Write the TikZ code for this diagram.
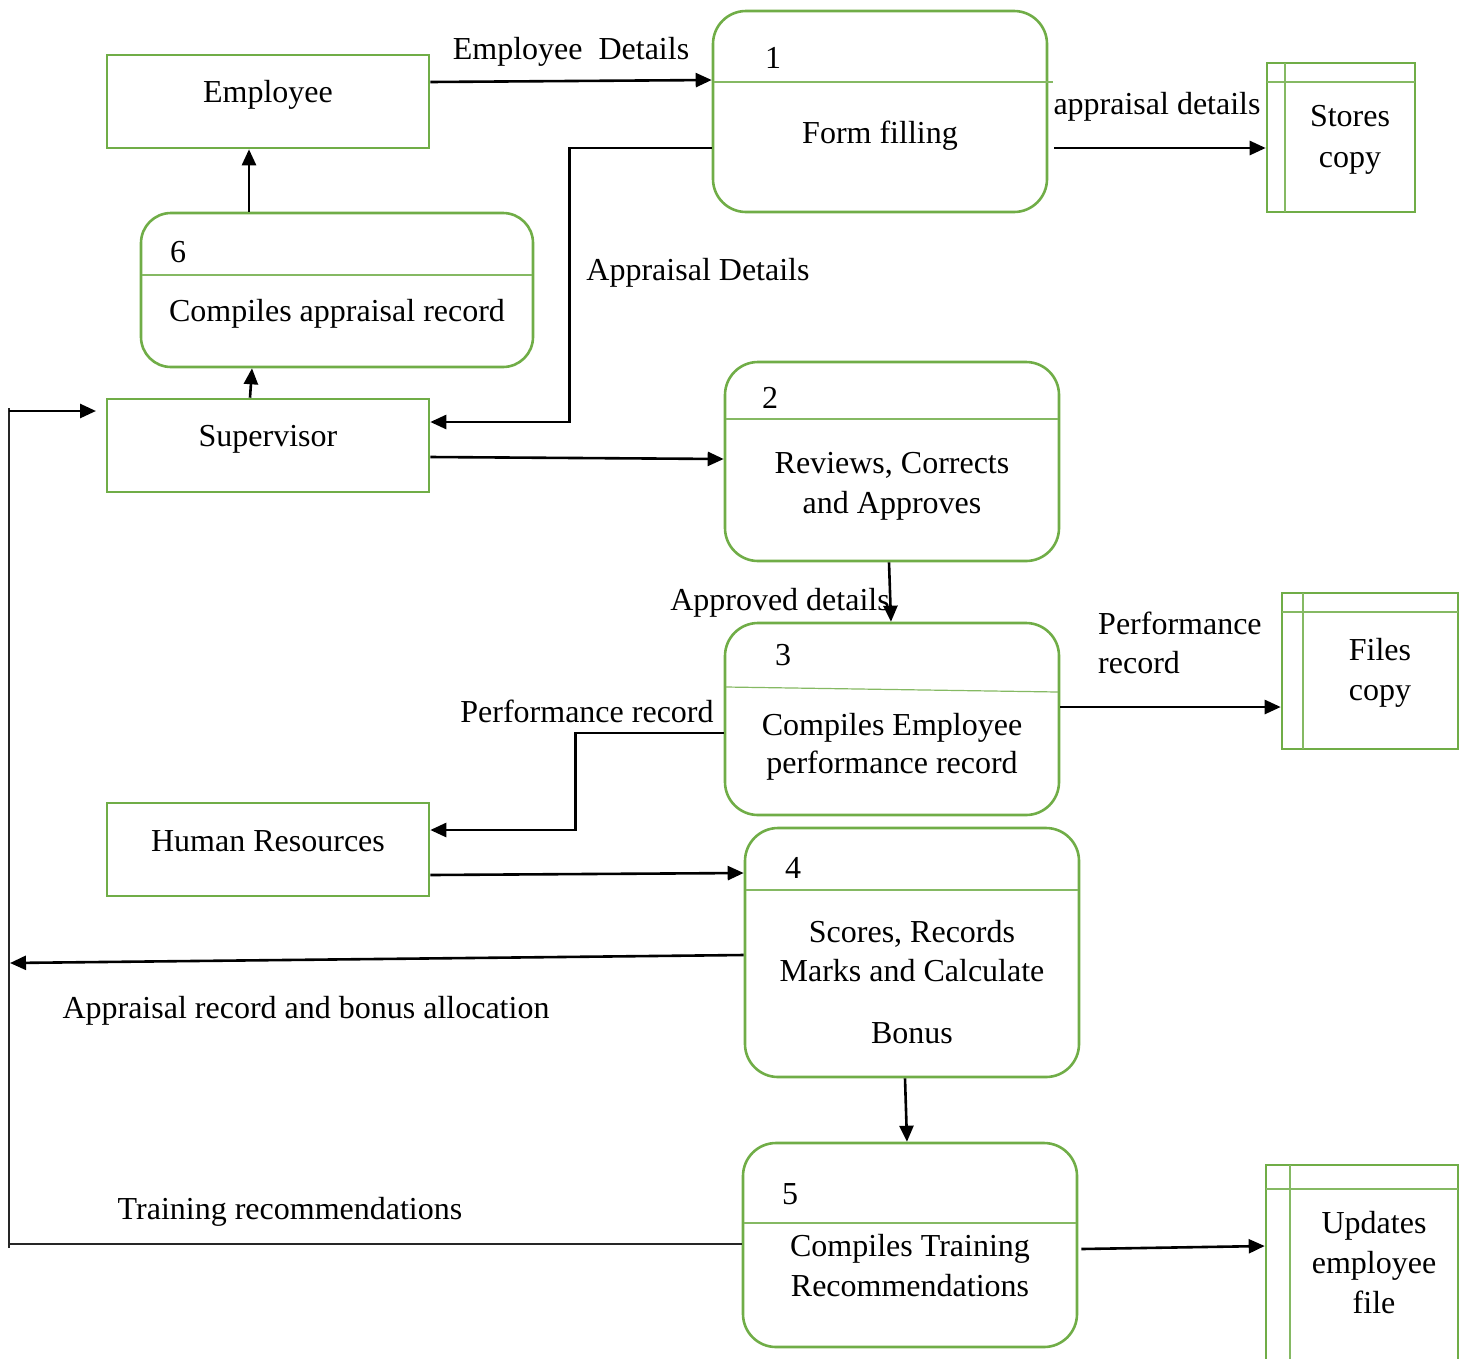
\documentclass[tikz,border=0pt]{standalone}
\usepackage{fontspec}
\setmainfont{Liberation Serif}
\usetikzlibrary{arrows.meta}
\definecolor{boxgreen}{RGB}{112,173,71}
\begin{document}
\begin{tikzpicture}[x=1pt,y=-1pt,
  entity/.style={draw=boxgreen,line width=2.6pt,rectangle,inner sep=0},
  procbox/.style={draw=boxgreen,line width=2.6pt,rectangle,rounded corners=33pt,inner sep=0},
  store/.style={draw=boxgreen,line width=2.6pt,rectangle,inner sep=0},
  divider/.style={draw=boxgreen!85!white,line width=1.2pt},
  txt/.style={font=\fontsize{32}{40}\selectfont,inner sep=0,anchor=base},
  txtw/.style={txt,anchor=base west},
  flow/.style={draw=black,line width=2.6pt,-{Triangle[length=16pt,width=14pt]}},
  thinflow/.style={draw=black!85,line width=1.4pt}]
\useasboundingbox (0,0) rectangle (1466,1358);

% external entities
\node[entity,minimum width=322pt,minimum height=93pt] (emp) at (268,101.5) {};
\node[entity,minimum width=322pt,minimum height=93pt] (sup) at (268,445.5) {};
\node[entity,minimum width=322pt,minimum height=93pt] (hr)  at (268,849.5) {};
\node[txt] (empT) at (268,102) {Employee};
\node[txt] (supT) at (268,446) {Supervisor};
\node[txt] (hrT)  at (268,851) {Human Resources};

% processes
\node[procbox,minimum width=334pt,minimum height=201pt] (p1) at (880,111.5) {};
\node[procbox,rounded corners=30pt,minimum width=392pt,minimum height=154pt] (p6) at (337,290) {};
\node[procbox,minimum width=334pt,minimum height=199pt] (p2) at (892,461.5) {};
\node[procbox,minimum width=334pt,minimum height=192pt] (p3) at (892,719) {};
\node[procbox,minimum width=334pt,minimum height=249pt] (p4) at (912,952.5) {};
\node[procbox,minimum width=334pt,minimum height=204pt] (p5) at (910,1245) {};

\draw[divider] (714,82) -- (1053,82);
\draw[divider] (142,275) -- (532,275);
\draw[divider] (726,419) -- (1058,419);
\draw[divider] (726,687) -- (1058,692);
\draw[divider] (746,890) -- (1078,890);
\draw[divider] (744,1223) -- (1076,1223);

\node[txt] (n1) at (773,68) {1};
\node[txt] (p1T) at (880,143) {Form filling};
\node[txt] (n6) at (178,262) {6};
\node[txt] (p6T) at (337,321) {Compiles appraisal record};
\node[txt] (n2) at (770,408) {2};
\node[txt] (p2a) at (892,473) {Reviews, Corrects};
\node[txt] (p2b) at (892,513) {and Approves};
\node[txt] (n3) at (783,665) {3};
\node[txt] (p3a) at (892,735) {Compiles Employee};
\node[txt] (p3b) at (892,773) {performance record};
\node[txt] (n4) at (793,878) {4};
\node[txt] (p4a) at (912,942) {Scores, Records};
\node[txt] (p4b) at (912,981) {Marks and Calculate};
\node[txt] (p4c) at (912,1043) {Bonus};
\node[txt] (n5) at (790,1204) {5};
\node[txt] (p5a) at (910,1256) {Compiles Training};
\node[txt] (p5b) at (910,1296) {Recommendations};

% data stores
\node[store,minimum width=148pt,minimum height=149pt] (st1) at (1341,137.5) {};
\draw[divider,line width=2.2pt] (1267,82) -- (1415,82);
\draw[divider,line width=2.2pt] (1285,63) -- (1285,212);
\node[txt] (st1a) at (1350,126) {Stores};
\node[txt] (st1b) at (1350,167) {copy};

\node[store,minimum width=176pt,minimum height=156pt] (st2) at (1370,671) {};
\draw[divider,line width=2.2pt] (1282,612) -- (1458,612);
\draw[divider,line width=2.2pt] (1303,593) -- (1303,749);
\node[txt] (st2a) at (1380,660) {Files};
\node[txt] (st2b) at (1380,700) {copy};

\node[store,minimum width=192pt,minimum height=215pt] (st3) at (1362,1272.5) {};
\draw[divider,line width=2.2pt] (1266,1189) -- (1458,1189);
\draw[divider,line width=2.2pt] (1290,1165) -- (1290,1380);
\node[txt] (st3a) at (1374,1233) {Updates};
\node[txt] (st3b) at (1374,1273) {employee};
\node[txt] (st3c) at (1374,1313) {file};

% data flows
\draw[flow] ([yshift=19.5pt]emp.east) -- ([yshift=31.5pt]p1.west);
\node[txt] (lab1) at (571,59) {Employee\ \ Details};

\draw[flow] ([yshift=-36.5pt]p1.west) -- ++(-142,0) |- ([yshift=23.5pt]sup.east);
\node[txt] (lab2) at (698,280) {Appraisal Details};

\draw[flow] ([yshift=-36.5pt,xshift=6pt]p1.east) -- ([yshift=-10.5pt]st1.west);
\node[txt] (lab3) at (1157,114) {appraisal details};

\draw[flow] ([xshift=-88pt]p6.north) -- ([xshift=-88pt]p6.north |- emp.south);
\draw[flow] ([xshift=-18pt]sup.north) -- ([xshift=-85pt]p6.south);

\draw[flow] ([yshift=-11.5pt]sup.east) -- ([yshift=2.5pt]p2.west);

\draw[flow] ([xshift=-3pt]p2.south) -- ([xshift=-1pt]p3.north);
\node[txt] (lab4) at (780,610) {Approved details};

\draw[flow] ([yshift=-14pt]p3.west) -- ++(-148,0) |- ([yshift=19.5pt]hr.east);
\node[txt] (lab5) at (587,722) {Performance record};

\draw[flow] ([yshift=12pt]p3.east) -- ([yshift=-36pt]st2.west);
\node[txtw] (lab6a) at (1098,634) {Performance};
\node[txtw] (lab6b) at (1098,673) {record};

\draw[flow] ([yshift=-25.5pt]hr.east) -- ([yshift=79.5pt]p4.west);

\coordinate (hrback) at (10,963);
\draw[flow] ([yshift=-2.5pt]p4.west) -- (hrback);
\node[txt] (lab7) at (306,1018) {Appraisal record and bonus allocation};

\draw[flow] ([xshift=-7pt]p4.south) -- ([xshift=-3pt]p5.north);

\draw[flow] ([yshift=-4pt,xshift=3pt]p5.east) -- ([yshift=26.5pt]st3.west);

% feedback to the supervisor
\coordinate (fbcorner) at (9,1244);
\coordinate (fbtop) at (9,411);
\coordinate (fbend) at (96,411);
\draw[thinflow] ([yshift=1pt]p5.west) -- (fbcorner);
\draw[thinflow] (9,1248) -- (9,408);
\draw[flow] (fbtop) -- (fbend);
\node[txt] (lab8) at (290,1219) {Training recommendations};
\end{tikzpicture}
\end{document}
